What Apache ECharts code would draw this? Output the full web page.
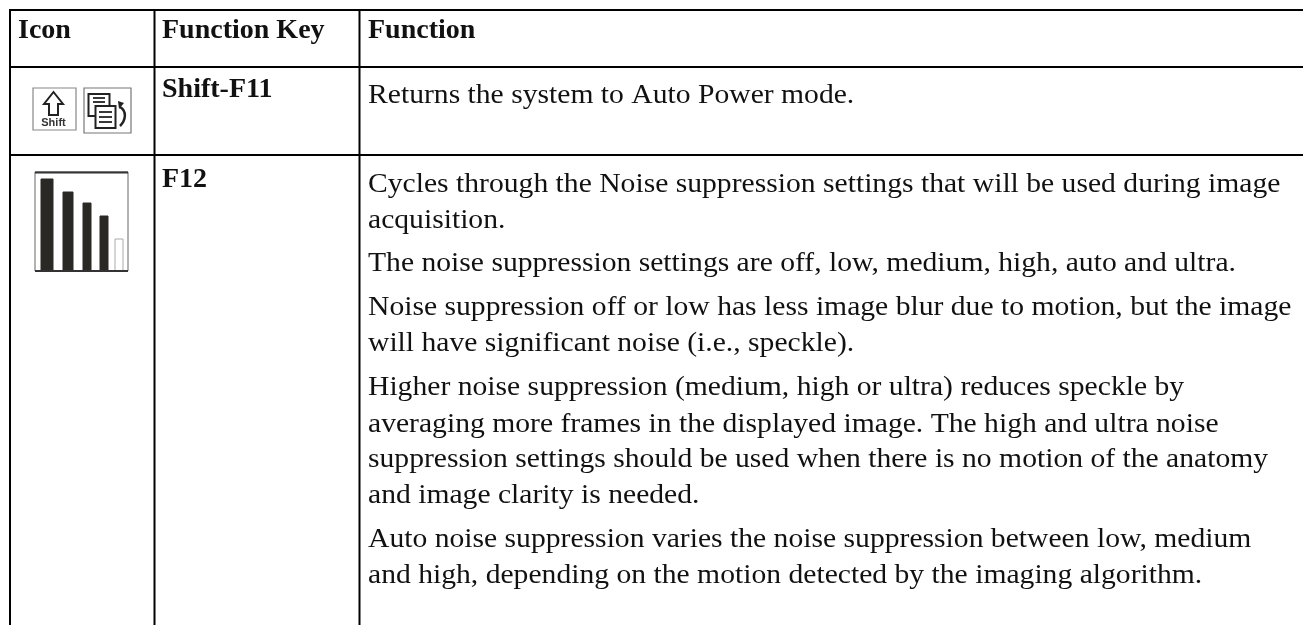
<!DOCTYPE html>
<html><head><meta charset="utf-8">
<style>html,body{margin:0;padding:0;background:#fff}#c{width:1303px;height:625px}</style>
<script src="https://cdn.jsdelivr.net/npm/echarts@6/dist/echarts.min.js"></script></head>
<body><div id="c"></div>
<script>
const headers = ["Icon","Function Key","Function"];
const functionKeys = ["Shift-F11","F12"];
const row1Lines = ["Returns the system to Auto Power mode."];
const row2Lines = [
"Cycles through the Noise suppression settings that will be used during image",
"acquisition.",
"The noise suppression settings are off, low, medium, high, auto and ultra.",
"Noise suppression off or low has less image blur due to motion, but the image",
"will have significant noise (i.e., speckle).",
"Higher noise suppression (medium, high or ultra) reduces speckle by",
"averaging more frames in the displayed image. The high and ultra noise",
"suppression settings should be used when there is no motion of the anatomy",
"and image clarity is needed.",
"Auto noise suppression varies the noise suppression between low, medium",
"and high, depending on the motion detected by the imaging algorithm."];
const row2Baselines = [192,228,271,315,351,395,432,467,503,547,583];
const barLefts = [6,28,48,65,80];
const barRights = [18,38,56,73,88];
const barHeights = [92,79,68,55,32];

const chart = echarts.init(document.getElementById('c'));
const FONT = '"Liberation Serif"';
const FS = 28;
const g = [];
function line(x1,y1,x2,y2,w,c){g.push({type:'line',z:5,shape:{x1,y1,x2,y2},style:{stroke:c||'#000',lineWidth:w}});}
function text(x,base,t,bold){g.push({type:'text',x,y:base-7,scaleX:bold?1:1.058,style:{text:t,font:(bold?'bold ':'')+FS+'px '+FONT,fill:'#111',verticalAlign:'middle'}});}
line(9,10,1303,10,2); line(9,67,1303,67,2); line(9,155,1303,155,2);
line(10,9,10,625,2); line(154.5,9,154.5,625,2); line(359.5,9,359.5,625,2);
text(18,38,headers[0],true); text(162,38,headers[1],true); text(368,38,headers[2],true);
text(162,97,functionKeys[0],true); text(162,187,functionKeys[1],true);
text(368,103,row1Lines[0]);
row2Lines.forEach((t,i)=>text(368,row2Baselines[i],t));
// Shift key icon
g.push({type:'rect',shape:{x:33,y:88,width:43,height:42},style:{fill:'#fff',stroke:'#888',lineWidth:1.2}});
g.push({type:'polygon',shape:{points:[[53.5,92],[63,104],[58,104],[58,115],[49,115],[49,104],[44,104]]},style:{fill:'#fff',stroke:'#222',lineWidth:2}});
g.push({type:'text',x:53.5,y:123,style:{text:'Shift',font:'bold 11px "Liberation Sans"',fill:'#333',align:'center',verticalAlign:'middle'}});
// Document icon
g.push({type:'rect',shape:{x:84,y:88,width:47,height:45},style:{fill:'#fff',stroke:'#777',lineWidth:1.2}});
g.push({type:'rect',shape:{x:88.5,y:94,width:21,height:22},style:{fill:'#fff',stroke:'#222',lineWidth:2}});
g.push({type:'rect',shape:{x:95.5,y:106,width:20,height:22},style:{fill:'#fff',stroke:'#222',lineWidth:2}});
[[93,105,98],[93,105,102],[99,112,112],[99,112,117],[99,112,122]].forEach(s=>line(s[0],s[2],s[1],s[2],1.8,'#222'));
g.push({type:'bezierCurve',shape:{x1:120,y1:107,cpx1:127,cpy1:111,cpx2:126,cpy2:120,x2:120,y2:126},style:{stroke:'#222',fill:'none',lineWidth:2.5}});
g.push({type:'polygon',shape:{points:[[118,101],[124,103],[119,109]]},style:{fill:'#222'}});
// frame of bar icon
line(35,172.5,128,172.5,2,'#333'); line(35,271,128,271,2,'#333');
chart.setOption({
 animation:false,
 grid:{left:35,top:172,width:93,height:99,show:true,borderColor:'#666',borderWidth:1,backgroundColor:'#fff'},
 xAxis:{type:'value',min:0,max:93,show:false},
 yAxis:{type:'value',min:0,max:99,show:false},
 series:[{type:'custom',data:barLefts.map((l,i)=>[l,barRights[i],barHeights[i]]),
  renderItem:(p,api)=>{const a=api.coord([api.value(0),api.value(2)]),b=api.coord([api.value(1),0]);
   const last=p.dataIndex===barLefts.length-1;
   return {type:'rect',shape:{x:a[0],y:a[1],width:b[0]-a[0],height:b[1]-a[1]},style:{fill:last?'#fff':'#2a2825',stroke:last?'#aaa':'#2a2825'}};}}],
 graphic:g
});
</script></body></html>
